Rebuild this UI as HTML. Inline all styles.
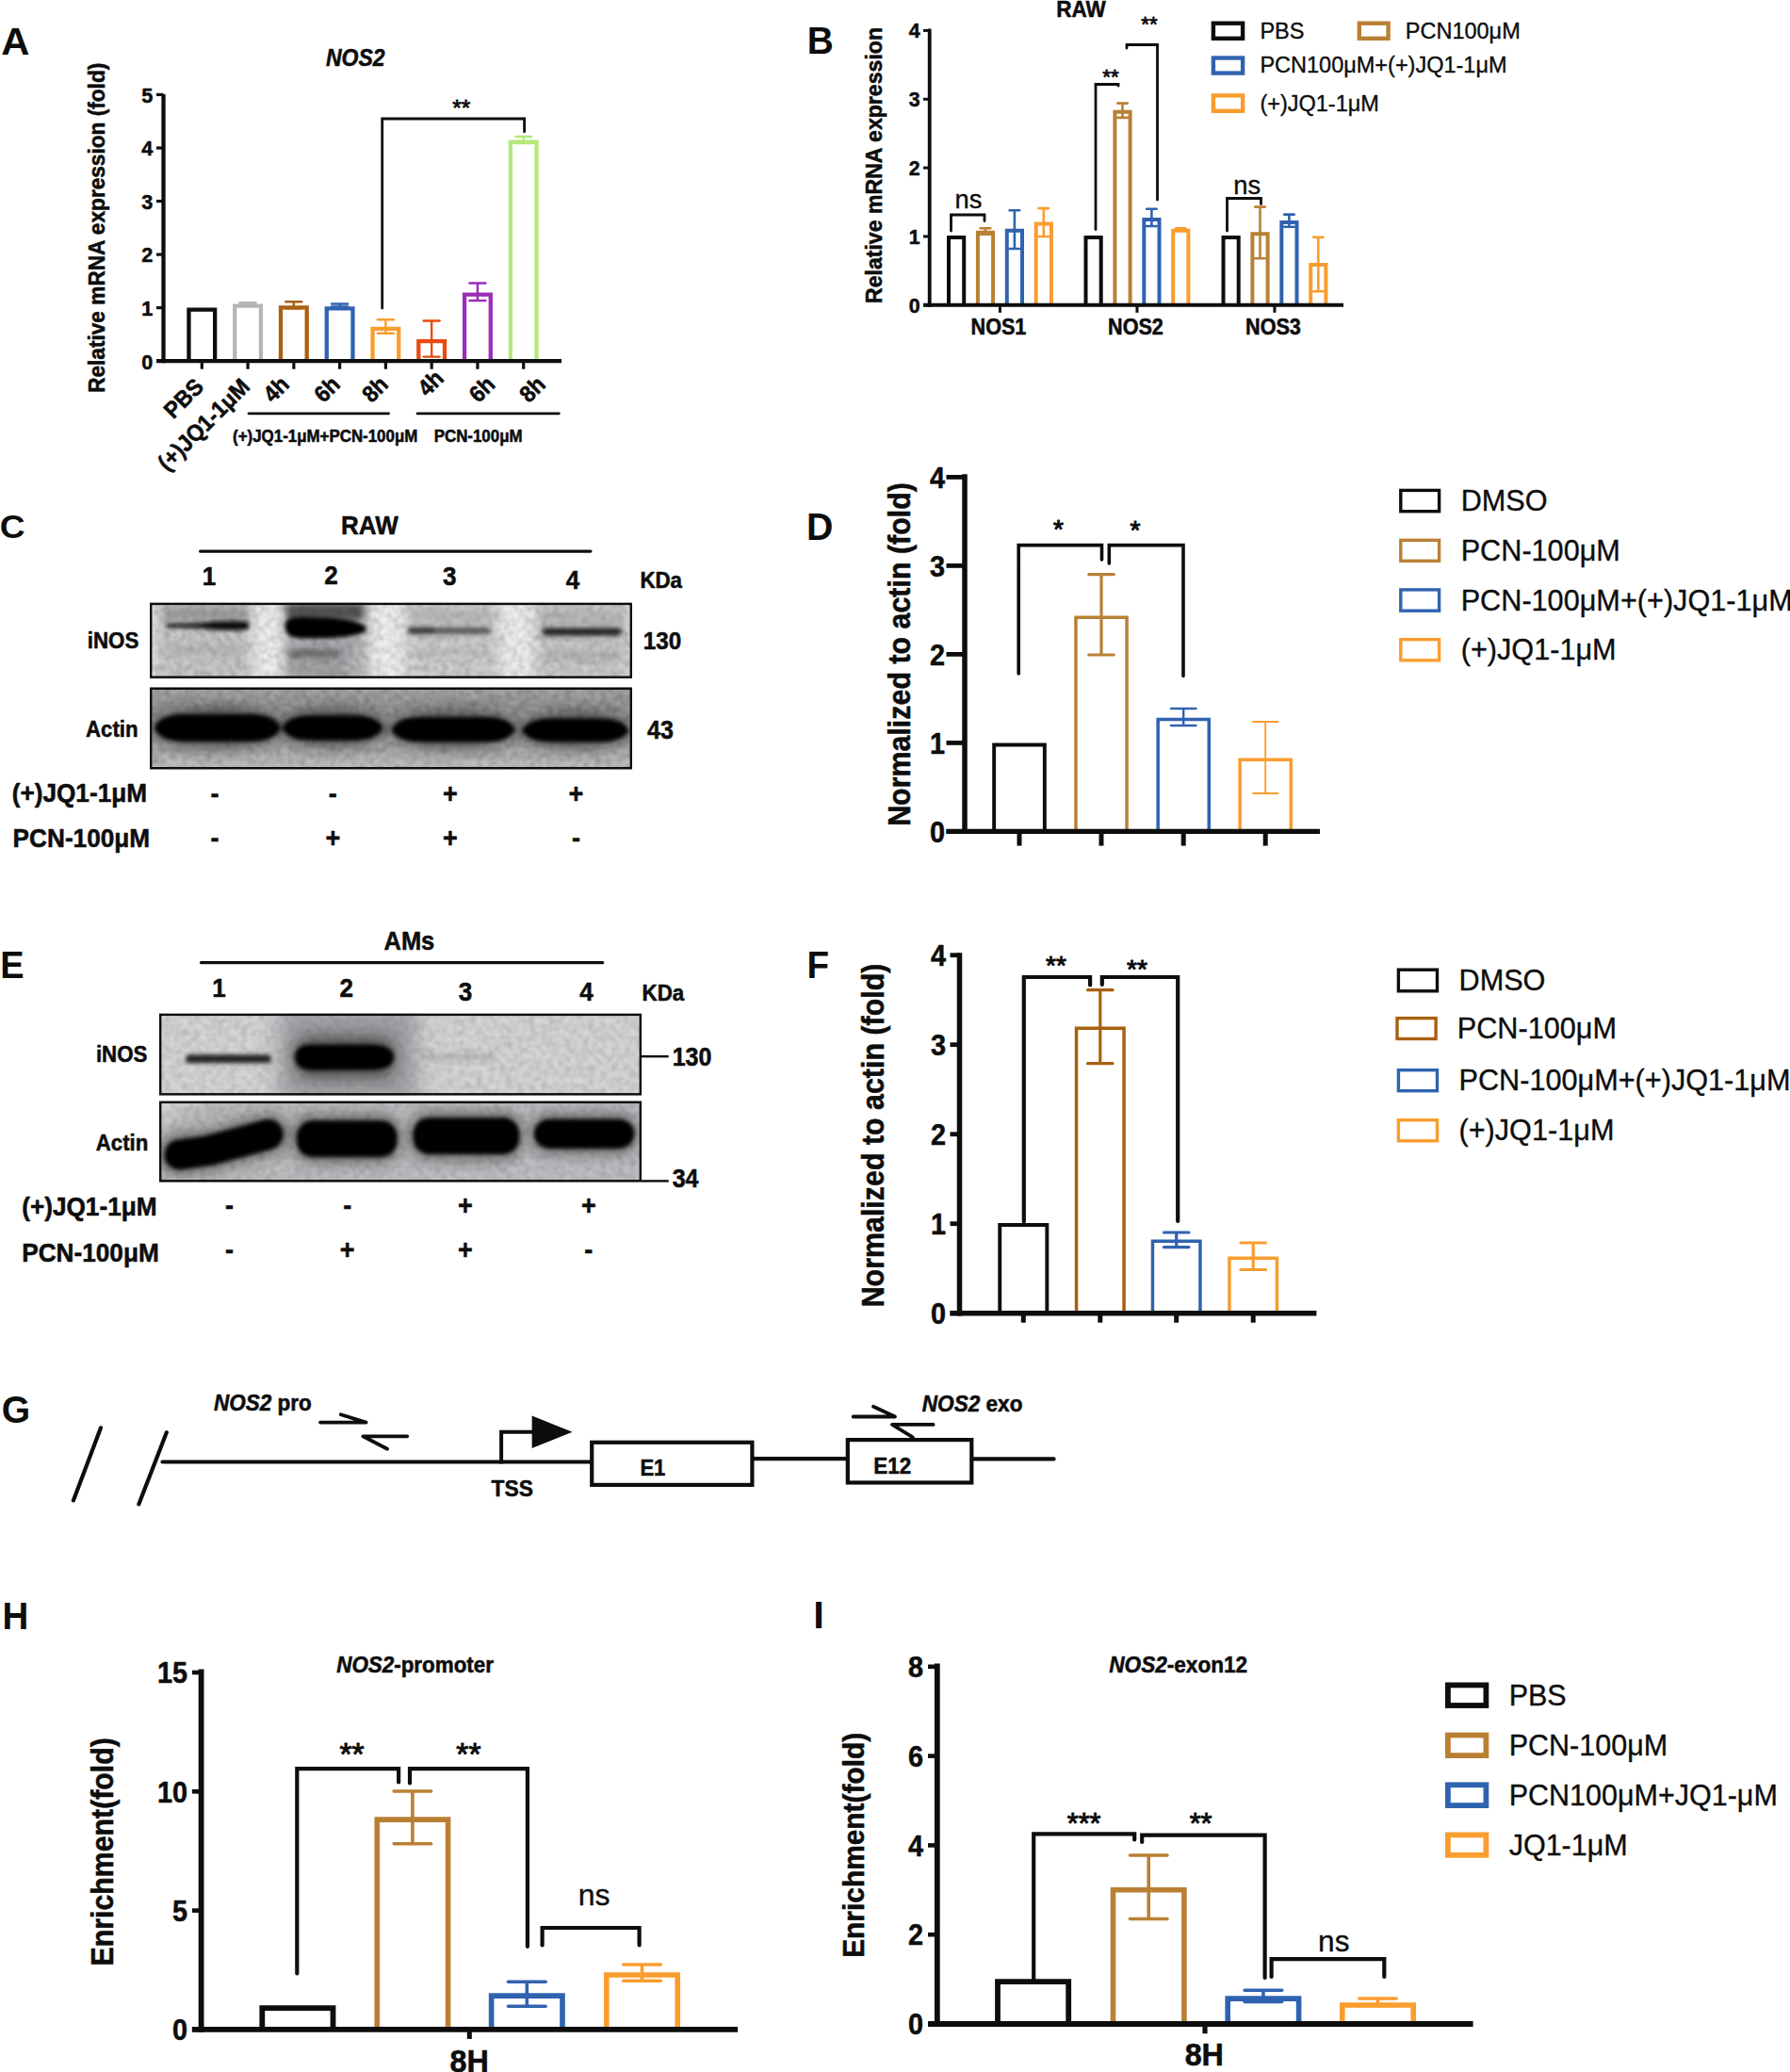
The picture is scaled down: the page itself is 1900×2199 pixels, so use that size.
<!DOCTYPE html>
<html lang="en"><head><meta charset="utf-8"><title>Figure</title>
<style>
html,body{margin:0;padding:0;background:#fff;}
svg{display:block;font-family:'Liberation Sans', sans-serif;}
text{font-family:'Liberation Sans', sans-serif;}
</style></head><body>
<svg width="1900" height="2199" viewBox="0 0 1900 2199">
<rect x="0" y="0" width="1900" height="2199" fill="#fff"/>
<g id="panelA">
<text x="0" y="0" style="font-size:40.90px;font-weight:bold" fill="#0d0d0d" transform="translate(1.16 58.20) scale(1.022 1)">A</text>
<text x="0" y="0" text-anchor="middle" style="font-size:25.99px;font-weight:bold;font-style:italic;" fill="#0d0d0d" transform="translate(377.3 69.9) scale(0.885 1)" stroke="#0d0d0d" stroke-width="0.55" stroke-linejoin="round">NOS2</text>
<path d="M200.45000000000002 383.2 V328.65 H228.15 V383.2" stroke="#0d0d0d" stroke-width="4.3" fill="none" stroke-linejoin="miter" stroke-linecap="butt"/>
<path d="M249.22 383.2 V324.65 H276.92 V383.2" stroke="#b5b4b9" stroke-width="4.3" fill="none" stroke-linejoin="miter" stroke-linecap="butt"/>
<line x1="263.07" y1="321.3" x2="263.07" y2="323.5" stroke="#b5b4b9" stroke-width="2.4" stroke-linecap="butt"/>
<line x1="254.57" y1="321.3" x2="271.57" y2="321.3" stroke="#b5b4b9" stroke-width="2.4" stroke-linecap="round"/>
<line x1="254.57" y1="323.5" x2="271.57" y2="323.5" stroke="#b5b4b9" stroke-width="2.4" stroke-linecap="round"/>
<path d="M297.99 383.2 V326.34999999999997 H325.69000000000005 V383.2" stroke="#aa6112" stroke-width="4.3" fill="none" stroke-linejoin="miter" stroke-linecap="butt"/>
<line x1="311.84000000000003" y1="320.2" x2="311.84000000000003" y2="327.3" stroke="#aa6112" stroke-width="2.4" stroke-linecap="butt"/>
<line x1="303.34000000000003" y1="320.2" x2="320.34000000000003" y2="320.2" stroke="#aa6112" stroke-width="2.4" stroke-linecap="round"/>
<line x1="303.34000000000003" y1="327.3" x2="320.34000000000003" y2="327.3" stroke="#aa6112" stroke-width="2.4" stroke-linecap="round"/>
<path d="M346.76 383.2 V327.45 H374.46000000000004 V383.2" stroke="#2f63b0" stroke-width="4.3" fill="none" stroke-linejoin="miter" stroke-linecap="butt"/>
<line x1="360.61" y1="322.5" x2="360.61" y2="325.5" stroke="#2f63b0" stroke-width="2.4" stroke-linecap="butt"/>
<line x1="352.11" y1="322.5" x2="369.11" y2="322.5" stroke="#2f63b0" stroke-width="2.4" stroke-linecap="round"/>
<line x1="352.11" y1="325.5" x2="369.11" y2="325.5" stroke="#2f63b0" stroke-width="2.4" stroke-linecap="round"/>
<path d="M395.53 383.2 V348.95 H423.23 V383.2" stroke="#f99d2f" stroke-width="4.3" fill="none" stroke-linejoin="miter" stroke-linecap="butt"/>
<line x1="409.38" y1="339.3" x2="409.38" y2="353.8" stroke="#f99d2f" stroke-width="2.4" stroke-linecap="butt"/>
<line x1="400.88" y1="339.3" x2="417.88" y2="339.3" stroke="#f99d2f" stroke-width="2.4" stroke-linecap="round"/>
<line x1="400.88" y1="353.8" x2="417.88" y2="353.8" stroke="#f99d2f" stroke-width="2.4" stroke-linecap="round"/>
<path d="M444.3 383.2 V362.15 H472.00000000000006 V383.2" stroke="#e84b10" stroke-width="4.3" fill="none" stroke-linejoin="miter" stroke-linecap="butt"/>
<line x1="458.15000000000003" y1="340.5" x2="458.15000000000003" y2="378.6" stroke="#e84b10" stroke-width="2.4" stroke-linecap="butt"/>
<line x1="449.65000000000003" y1="340.5" x2="466.65000000000003" y2="340.5" stroke="#e84b10" stroke-width="2.4" stroke-linecap="round"/>
<line x1="449.65000000000003" y1="378.6" x2="466.65000000000003" y2="378.6" stroke="#e84b10" stroke-width="2.4" stroke-linecap="round"/>
<path d="M493.07 383.2 V312.65 H520.7700000000001 V383.2" stroke="#9b2db8" stroke-width="4.3" fill="none" stroke-linejoin="miter" stroke-linecap="butt"/>
<line x1="506.92" y1="300.5" x2="506.92" y2="319" stroke="#9b2db8" stroke-width="2.4" stroke-linecap="butt"/>
<line x1="498.42" y1="300.5" x2="515.4200000000001" y2="300.5" stroke="#9b2db8" stroke-width="2.4" stroke-linecap="round"/>
<line x1="498.42" y1="319" x2="515.4200000000001" y2="319" stroke="#9b2db8" stroke-width="2.4" stroke-linecap="round"/>
<path d="M541.84 383.2 V150.75 H569.5400000000001 V383.2" stroke="#b4e87a" stroke-width="4.3" fill="none" stroke-linejoin="miter" stroke-linecap="butt"/>
<line x1="555.69" y1="145" x2="555.69" y2="152" stroke="#b4e87a" stroke-width="2.4" stroke-linecap="butt"/>
<line x1="547.19" y1="145" x2="564.19" y2="145" stroke="#b4e87a" stroke-width="2.4" stroke-linecap="round"/>
<line x1="547.19" y1="152" x2="564.19" y2="152" stroke="#b4e87a" stroke-width="2.4" stroke-linecap="round"/>
<line x1="173.5" y1="100" x2="173.5" y2="385.3" stroke="#0d0d0d" stroke-width="4.3" stroke-linecap="butt"/>
<line x1="166" y1="383.2" x2="596" y2="383.2" stroke="#0d0d0d" stroke-width="4.3" stroke-linecap="butt"/>
<line x1="166" y1="383.2" x2="173.5" y2="383.2" stroke="#0d0d0d" stroke-width="3.2" stroke-linecap="butt"/>
<text x="0" y="0" text-anchor="end" style="font-size:22.04px;font-weight:bold;" fill="#0d0d0d" transform="translate(162.3 391.5) scale(0.98 1)" stroke="#0d0d0d" stroke-width="0.55" stroke-linejoin="round">0</text>
<line x1="166" y1="326.65" x2="173.5" y2="326.65" stroke="#0d0d0d" stroke-width="3.2" stroke-linecap="butt"/>
<text x="0" y="0" text-anchor="end" style="font-size:22.04px;font-weight:bold;" fill="#0d0d0d" transform="translate(162.3 334.95) scale(0.98 1)" stroke="#0d0d0d" stroke-width="0.55" stroke-linejoin="round">1</text>
<line x1="166" y1="270.1" x2="173.5" y2="270.1" stroke="#0d0d0d" stroke-width="3.2" stroke-linecap="butt"/>
<text x="0" y="0" text-anchor="end" style="font-size:22.04px;font-weight:bold;" fill="#0d0d0d" transform="translate(162.3 278.40000000000003) scale(0.98 1)" stroke="#0d0d0d" stroke-width="0.55" stroke-linejoin="round">2</text>
<line x1="166" y1="213.55" x2="173.5" y2="213.55" stroke="#0d0d0d" stroke-width="3.2" stroke-linecap="butt"/>
<text x="0" y="0" text-anchor="end" style="font-size:22.04px;font-weight:bold;" fill="#0d0d0d" transform="translate(162.3 221.85000000000002) scale(0.98 1)" stroke="#0d0d0d" stroke-width="0.55" stroke-linejoin="round">3</text>
<line x1="166" y1="157.0" x2="173.5" y2="157.0" stroke="#0d0d0d" stroke-width="3.2" stroke-linecap="butt"/>
<text x="0" y="0" text-anchor="end" style="font-size:22.04px;font-weight:bold;" fill="#0d0d0d" transform="translate(162.3 165.3) scale(0.98 1)" stroke="#0d0d0d" stroke-width="0.55" stroke-linejoin="round">4</text>
<line x1="166" y1="100.44999999999999" x2="173.5" y2="100.44999999999999" stroke="#0d0d0d" stroke-width="3.2" stroke-linecap="butt"/>
<text x="0" y="0" text-anchor="end" style="font-size:22.04px;font-weight:bold;" fill="#0d0d0d" transform="translate(162.3 108.74999999999999) scale(0.98 1)" stroke="#0d0d0d" stroke-width="0.55" stroke-linejoin="round">5</text>
<line x1="214.3" y1="383.2" x2="214.3" y2="391.7" stroke="#0d0d0d" stroke-width="3.2" stroke-linecap="butt"/>
<line x1="263.07" y1="383.2" x2="263.07" y2="391.7" stroke="#0d0d0d" stroke-width="3.2" stroke-linecap="butt"/>
<line x1="311.84000000000003" y1="383.2" x2="311.84000000000003" y2="391.7" stroke="#0d0d0d" stroke-width="3.2" stroke-linecap="butt"/>
<line x1="360.61" y1="383.2" x2="360.61" y2="391.7" stroke="#0d0d0d" stroke-width="3.2" stroke-linecap="butt"/>
<line x1="409.38" y1="383.2" x2="409.38" y2="391.7" stroke="#0d0d0d" stroke-width="3.2" stroke-linecap="butt"/>
<line x1="458.15000000000003" y1="383.2" x2="458.15000000000003" y2="391.7" stroke="#0d0d0d" stroke-width="3.2" stroke-linecap="butt"/>
<line x1="506.92" y1="383.2" x2="506.92" y2="391.7" stroke="#0d0d0d" stroke-width="3.2" stroke-linecap="butt"/>
<line x1="555.69" y1="383.2" x2="555.69" y2="391.7" stroke="#0d0d0d" stroke-width="3.2" stroke-linecap="butt"/>
<path d="M405.7 327 V126 H556.6 V139.8" stroke="#0d0d0d" stroke-width="2.8" fill="none" stroke-linejoin="miter" stroke-linecap="round"/>
<text x="489.8" y="123.3" text-anchor="middle" style="font-size:24.5px;" fill="#0d0d0d" stroke="#0d0d0d" stroke-width="0.8" stroke-linejoin="round">**</text>
<text x="0" y="0" text-anchor="end" style="font-size:24.6px;font-weight:bold;" fill="#0d0d0d" transform="translate(217.5 412) rotate(-45) scale(0.935 1)" stroke="#0d0d0d" stroke-width="0.55" stroke-linejoin="round">PBS</text>
<text x="0" y="0" text-anchor="end" style="font-size:24.6px;font-weight:bold;" fill="#0d0d0d" transform="translate(266.5 412) rotate(-45) scale(0.935 1)" stroke="#0d0d0d" stroke-width="0.55" stroke-linejoin="round">(+)JQ1-1μM</text>
<text x="0" y="0" text-anchor="end" style="font-size:24.6px;font-weight:bold;" fill="#0d0d0d" transform="translate(308.5 409.5) rotate(-45) scale(0.935 1)" stroke="#0d0d0d" stroke-width="0.55" stroke-linejoin="round">4h</text>
<text x="0" y="0" text-anchor="end" style="font-size:24.6px;font-weight:bold;" fill="#0d0d0d" transform="translate(362.5 409.5) rotate(-45) scale(0.935 1)" stroke="#0d0d0d" stroke-width="0.55" stroke-linejoin="round">6h</text>
<text x="0" y="0" text-anchor="end" style="font-size:24.6px;font-weight:bold;" fill="#0d0d0d" transform="translate(413.5 409.5) rotate(-45) scale(0.935 1)" stroke="#0d0d0d" stroke-width="0.55" stroke-linejoin="round">8h</text>
<text x="0" y="0" text-anchor="end" style="font-size:24.6px;font-weight:bold;" fill="#0d0d0d" transform="translate(472.5 403) rotate(-45) scale(0.935 1)" stroke="#0d0d0d" stroke-width="0.55" stroke-linejoin="round">4h</text>
<text x="0" y="0" text-anchor="end" style="font-size:24.6px;font-weight:bold;" fill="#0d0d0d" transform="translate(527 409.5) rotate(-45) scale(0.935 1)" stroke="#0d0d0d" stroke-width="0.55" stroke-linejoin="round">6h</text>
<text x="0" y="0" text-anchor="end" style="font-size:24.6px;font-weight:bold;" fill="#0d0d0d" transform="translate(580.5 409.5) rotate(-45) scale(0.935 1)" stroke="#0d0d0d" stroke-width="0.55" stroke-linejoin="round">8h</text>
<line x1="264" y1="438.8" x2="412.6" y2="438.8" stroke="#0d0d0d" stroke-width="2.8" stroke-linecap="round"/>
<line x1="443" y1="438.8" x2="593.3" y2="438.8" stroke="#0d0d0d" stroke-width="2.8" stroke-linecap="round"/>
<text x="0" y="0" text-anchor="middle" style="font-size:18.07px;font-weight:bold;" fill="#0d0d0d" transform="translate(345.2 469) scale(0.935 1)" stroke="#0d0d0d" stroke-width="0.55" stroke-linejoin="round">(+)JQ1-1μM+PCN-100μM</text>
<text x="0" y="0" text-anchor="middle" style="font-size:18.07px;font-weight:bold;" fill="#0d0d0d" transform="translate(507.6 469) scale(0.935 1)" stroke="#0d0d0d" stroke-width="0.55" stroke-linejoin="round">PCN-100μM</text>
<text x="0" y="0" text-anchor="middle" style="font-size:24.22px;font-weight:bold;" fill="#0d0d0d" transform="translate(110.8 241.8) rotate(-90) scale(0.935 1)" stroke="#0d0d0d" stroke-width="0.55" stroke-linejoin="round">Relative mRNA expression (fold)</text>
</g>
<g id="panelB">
<text x="0" y="0" style="font-size:40.93px;font-weight:bold" fill="#0d0d0d" transform="translate(856.80 56.90) scale(0.949 1)">B</text>
<text x="0" y="0" text-anchor="middle" style="font-size:24.06px;font-weight:bold;" fill="#0d0d0d" transform="translate(1147.4 18.4) scale(0.935 1)" stroke="#0d0d0d" stroke-width="0.55" stroke-linejoin="round">RAW</text>
<path d="M1007.0 323.8 V251.95000000000002 H1023.2 V323.8" stroke="#0d0d0d" stroke-width="4" fill="none" stroke-linejoin="miter" stroke-linecap="butt"/>
<path d="M1037.9 323.8 V246.8505 H1054.1 V323.8" stroke="#b98034" stroke-width="4" fill="none" stroke-linejoin="miter" stroke-linecap="butt"/>
<line x1="1046.0" y1="242.20800000000003" x2="1046.0" y2="248.7645" stroke="#b98034" stroke-width="2.6" stroke-linecap="butt"/>
<line x1="1040.75" y1="242.20800000000003" x2="1051.25" y2="242.20800000000003" stroke="#b98034" stroke-width="2.6" stroke-linecap="round"/>
<line x1="1040.75" y1="248.7645" x2="1051.25" y2="248.7645" stroke="#b98034" stroke-width="2.6" stroke-linecap="round"/>
<path d="M1068.8000000000002 323.8 V244.66500000000002 H1085.0 V323.8" stroke="#2f63b0" stroke-width="4" fill="none" stroke-linejoin="miter" stroke-linecap="butt"/>
<line x1="1076.9" y1="223.26700000000002" x2="1076.9" y2="264.063" stroke="#2f63b0" stroke-width="2.6" stroke-linecap="butt"/>
<line x1="1071.65" y1="223.26700000000002" x2="1082.15" y2="223.26700000000002" stroke="#2f63b0" stroke-width="2.6" stroke-linecap="round"/>
<line x1="1071.65" y1="264.063" x2="1082.15" y2="264.063" stroke="#2f63b0" stroke-width="2.6" stroke-linecap="round"/>
<path d="M1099.7 323.8 V237.38000000000002 H1115.8999999999999 V323.8" stroke="#f99d2f" stroke-width="4" fill="none" stroke-linejoin="miter" stroke-linecap="butt"/>
<line x1="1107.8" y1="221.0815" x2="1107.8" y2="250.95000000000002" stroke="#f99d2f" stroke-width="2.6" stroke-linecap="butt"/>
<line x1="1102.55" y1="221.0815" x2="1113.05" y2="221.0815" stroke="#f99d2f" stroke-width="2.6" stroke-linecap="round"/>
<line x1="1102.55" y1="250.95000000000002" x2="1113.05" y2="250.95000000000002" stroke="#f99d2f" stroke-width="2.6" stroke-linecap="round"/>
<path d="M1152.5 323.8 V251.95000000000002 H1168.6999999999998 V323.8" stroke="#0d0d0d" stroke-width="4" fill="none" stroke-linejoin="miter" stroke-linecap="butt"/>
<path d="M1183.4 323.8 V118.63450000000003 H1199.6 V323.8" stroke="#b98034" stroke-width="4" fill="none" stroke-linejoin="miter" stroke-linecap="butt"/>
<line x1="1191.5" y1="109.62100000000004" x2="1191.5" y2="124.91950000000003" stroke="#b98034" stroke-width="2.6" stroke-linecap="butt"/>
<line x1="1186.25" y1="109.62100000000004" x2="1196.75" y2="109.62100000000004" stroke="#b98034" stroke-width="2.6" stroke-linecap="round"/>
<line x1="1186.25" y1="124.91950000000003" x2="1196.75" y2="124.91950000000003" stroke="#b98034" stroke-width="2.6" stroke-linecap="round"/>
<path d="M1214.3 323.8 V233.00900000000001 H1230.4999999999998 V323.8" stroke="#2f63b0" stroke-width="4" fill="none" stroke-linejoin="miter" stroke-linecap="butt"/>
<line x1="1222.3999999999999" y1="221.81000000000003" x2="1222.3999999999999" y2="240.02250000000004" stroke="#2f63b0" stroke-width="2.6" stroke-linecap="butt"/>
<line x1="1217.1499999999999" y1="221.81000000000003" x2="1227.6499999999999" y2="221.81000000000003" stroke="#2f63b0" stroke-width="2.6" stroke-linecap="round"/>
<line x1="1217.1499999999999" y1="240.02250000000004" x2="1227.6499999999999" y2="240.02250000000004" stroke="#2f63b0" stroke-width="2.6" stroke-linecap="round"/>
<path d="M1245.2 323.8 V244.66500000000002 H1261.3999999999999 V323.8" stroke="#f99d2f" stroke-width="4" fill="none" stroke-linejoin="miter" stroke-linecap="butt"/>
<line x1="1253.3" y1="242.20800000000003" x2="1253.3" y2="244.39350000000002" stroke="#f99d2f" stroke-width="2.6" stroke-linecap="butt"/>
<line x1="1248.05" y1="242.20800000000003" x2="1258.55" y2="242.20800000000003" stroke="#f99d2f" stroke-width="2.6" stroke-linecap="round"/>
<line x1="1248.05" y1="244.39350000000002" x2="1258.55" y2="244.39350000000002" stroke="#f99d2f" stroke-width="2.6" stroke-linecap="round"/>
<path d="M1298.5 323.8 V251.95000000000002 H1314.6999999999998 V323.8" stroke="#0d0d0d" stroke-width="4" fill="none" stroke-linejoin="miter" stroke-linecap="butt"/>
<path d="M1329.4 323.8 V248.3075 H1345.6 V323.8" stroke="#b98034" stroke-width="4" fill="none" stroke-linejoin="miter" stroke-linecap="butt"/>
<line x1="1337.5" y1="219.6245" x2="1337.5" y2="274.262" stroke="#b98034" stroke-width="2.6" stroke-linecap="butt"/>
<line x1="1332.25" y1="219.6245" x2="1342.75" y2="219.6245" stroke="#b98034" stroke-width="2.6" stroke-linecap="round"/>
<line x1="1332.25" y1="274.262" x2="1342.75" y2="274.262" stroke="#b98034" stroke-width="2.6" stroke-linecap="round"/>
<path d="M1360.3 323.8 V235.923 H1376.4999999999998 V323.8" stroke="#2f63b0" stroke-width="4" fill="none" stroke-linejoin="miter" stroke-linecap="butt"/>
<line x1="1368.3999999999999" y1="227.63800000000003" x2="1368.3999999999999" y2="240.75100000000003" stroke="#2f63b0" stroke-width="2.6" stroke-linecap="butt"/>
<line x1="1363.1499999999999" y1="227.63800000000003" x2="1373.6499999999999" y2="227.63800000000003" stroke="#2f63b0" stroke-width="2.6" stroke-linecap="round"/>
<line x1="1363.1499999999999" y1="240.75100000000003" x2="1373.6499999999999" y2="240.75100000000003" stroke="#2f63b0" stroke-width="2.6" stroke-linecap="round"/>
<path d="M1391.2 323.8 V281.09000000000003 H1407.3999999999999 V323.8" stroke="#f99d2f" stroke-width="4" fill="none" stroke-linejoin="miter" stroke-linecap="butt"/>
<line x1="1399.3" y1="251.6785" x2="1399.3" y2="309.23" stroke="#f99d2f" stroke-width="2.6" stroke-linecap="butt"/>
<line x1="1394.05" y1="251.6785" x2="1404.55" y2="251.6785" stroke="#f99d2f" stroke-width="2.6" stroke-linecap="round"/>
<line x1="1394.05" y1="309.23" x2="1404.55" y2="309.23" stroke="#f99d2f" stroke-width="2.6" stroke-linecap="round"/>
<line x1="986.7" y1="30.5" x2="986.7" y2="325.8" stroke="#0d0d0d" stroke-width="3.8" stroke-linecap="butt"/>
<line x1="980" y1="323.8" x2="1426" y2="323.8" stroke="#0d0d0d" stroke-width="4" stroke-linecap="butt"/>
<line x1="980" y1="323.8" x2="986.7" y2="323.8" stroke="#0d0d0d" stroke-width="3" stroke-linecap="butt"/>
<text x="0" y="0" text-anchor="end" style="font-size:21.73px;font-weight:bold;" fill="#0d0d0d" transform="translate(976.5 331.6) scale(0.98 1)" stroke="#0d0d0d" stroke-width="0.55" stroke-linejoin="round">0</text>
<line x1="980" y1="250.95000000000002" x2="986.7" y2="250.95000000000002" stroke="#0d0d0d" stroke-width="3" stroke-linecap="butt"/>
<text x="0" y="0" text-anchor="end" style="font-size:21.73px;font-weight:bold;" fill="#0d0d0d" transform="translate(976.5 258.75) scale(0.98 1)" stroke="#0d0d0d" stroke-width="0.55" stroke-linejoin="round">1</text>
<line x1="980" y1="178.10000000000002" x2="986.7" y2="178.10000000000002" stroke="#0d0d0d" stroke-width="3" stroke-linecap="butt"/>
<text x="0" y="0" text-anchor="end" style="font-size:21.73px;font-weight:bold;" fill="#0d0d0d" transform="translate(976.5 185.90000000000003) scale(0.98 1)" stroke="#0d0d0d" stroke-width="0.55" stroke-linejoin="round">2</text>
<line x1="980" y1="105.25000000000003" x2="986.7" y2="105.25000000000003" stroke="#0d0d0d" stroke-width="3" stroke-linecap="butt"/>
<text x="0" y="0" text-anchor="end" style="font-size:21.73px;font-weight:bold;" fill="#0d0d0d" transform="translate(976.5 113.05000000000003) scale(0.98 1)" stroke="#0d0d0d" stroke-width="0.55" stroke-linejoin="round">3</text>
<line x1="980" y1="32.400000000000034" x2="986.7" y2="32.400000000000034" stroke="#0d0d0d" stroke-width="3" stroke-linecap="butt"/>
<text x="0" y="0" text-anchor="end" style="font-size:21.73px;font-weight:bold;" fill="#0d0d0d" transform="translate(976.5 40.20000000000003) scale(0.98 1)" stroke="#0d0d0d" stroke-width="0.55" stroke-linejoin="round">4</text>
<line x1="1061.45" y1="323.8" x2="1061.45" y2="331.8" stroke="#0d0d0d" stroke-width="3" stroke-linecap="butt"/>
<line x1="1206.9499999999998" y1="323.8" x2="1206.9499999999998" y2="331.8" stroke="#0d0d0d" stroke-width="3" stroke-linecap="butt"/>
<line x1="1352.9499999999998" y1="323.8" x2="1352.9499999999998" y2="331.8" stroke="#0d0d0d" stroke-width="3" stroke-linecap="butt"/>
<text x="0" y="0" text-anchor="middle" style="font-size:23.1px;font-weight:bold;" fill="#0d0d0d" transform="translate(1059.95 355.3) scale(0.935 1)" stroke="#0d0d0d" stroke-width="0.55" stroke-linejoin="round">NOS1</text>
<text x="0" y="0" text-anchor="middle" style="font-size:23.1px;font-weight:bold;" fill="#0d0d0d" transform="translate(1205.4499999999998 355.3) scale(0.935 1)" stroke="#0d0d0d" stroke-width="0.55" stroke-linejoin="round">NOS2</text>
<text x="0" y="0" text-anchor="middle" style="font-size:23.1px;font-weight:bold;" fill="#0d0d0d" transform="translate(1351.4499999999998 355.3) scale(0.935 1)" stroke="#0d0d0d" stroke-width="0.55" stroke-linejoin="round">NOS3</text>
<path d="M1009.5 245 V228 H1045 V234.5" stroke="#0d0d0d" stroke-width="2.8" fill="none" stroke-linejoin="miter" stroke-linecap="round"/>
<text x="1028" y="221.3" text-anchor="middle" style="font-size:27.3px;" fill="#0d0d0d" stroke="#0d0d0d" stroke-width="0.35" stroke-linejoin="round">ns</text>
<path d="M1163 243.5 V89.5 H1187 V91" stroke="#0d0d0d" stroke-width="2.8" fill="none" stroke-linejoin="miter" stroke-linecap="round"/>
<text x="1179" y="89.2" text-anchor="middle" style="font-size:22.2px;" fill="#0d0d0d" stroke="#0d0d0d" stroke-width="0.8" stroke-linejoin="round">**</text>
<path d="M1196 51 V47.5 H1228.5 V212" stroke="#0d0d0d" stroke-width="2.8" fill="none" stroke-linejoin="miter" stroke-linecap="round"/>
<text x="1220" y="32.8" text-anchor="middle" style="font-size:22.2px;" fill="#0d0d0d" stroke="#0d0d0d" stroke-width="0.8" stroke-linejoin="round">**</text>
<path d="M1302.5 245 V210.5 H1338.5 V216.5" stroke="#0d0d0d" stroke-width="2.8" fill="none" stroke-linejoin="miter" stroke-linecap="round"/>
<text x="1323.7" y="206" text-anchor="middle" style="font-size:27.3px;" fill="#0d0d0d" stroke="#0d0d0d" stroke-width="0.35" stroke-linejoin="round">ns</text>
<rect x="1287.9" y="24.7" width="31.19999999999991" height="16.1" fill="none" stroke="#0d0d0d" stroke-width="4.4"/>
<text x="1337.4" y="40.8" text-anchor="start" style="font-size:23.5px;" fill="#0d0d0d" stroke="#0d0d0d" stroke-width="0.35" stroke-linejoin="round">PBS</text>
<rect x="1442.8" y="24.7" width="30.800000000000047" height="16.1" fill="none" stroke="#b98034" stroke-width="4.4"/>
<text x="1491.8" y="40.8" text-anchor="start" style="font-size:23.5px;" fill="#0d0d0d" stroke="#0d0d0d" stroke-width="0.35" stroke-linejoin="round">PCN100μM</text>
<rect x="1287.9" y="61.5" width="31.19999999999991" height="16.1" fill="none" stroke="#2f63b0" stroke-width="4.4"/>
<text x="1337.4" y="77.4" text-anchor="start" style="font-size:23.5px;" fill="#0d0d0d" stroke="#0d0d0d" stroke-width="0.35" stroke-linejoin="round">PCN100μM+(+)JQ1-1μM</text>
<rect x="1287.9" y="101.4" width="31.19999999999991" height="16.4" fill="none" stroke="#f99d2f" stroke-width="4.4"/>
<text x="1337.4" y="117.7" text-anchor="start" style="font-size:23.5px;" fill="#0d0d0d" stroke="#0d0d0d" stroke-width="0.35" stroke-linejoin="round">(+)JQ1-1μM</text>
<text x="0" y="0" text-anchor="middle" style="font-size:24.71px;font-weight:bold;" fill="#0d0d0d" transform="translate(936 175.5) rotate(-90) scale(0.935 1)" stroke="#0d0d0d" stroke-width="0.55" stroke-linejoin="round">Relative mRNA expression</text>
</g>
<defs>
<filter id="b1" x="-20%" y="-100%" width="140%" height="300%"><feGaussianBlur stdDeviation="1.2"/></filter>
<filter id="b2" x="-20%" y="-100%" width="140%" height="300%"><feGaussianBlur stdDeviation="2.2"/></filter>
<filter id="b3" x="-20%" y="-100%" width="140%" height="300%"><feGaussianBlur stdDeviation="3.5"/></filter>
<filter id="b6" x="-30%" y="-100%" width="160%" height="300%"><feGaussianBlur stdDeviation="7"/></filter>
<filter id="b10" x="-40%" y="-100%" width="180%" height="300%"><feGaussianBlur stdDeviation="11"/></filter>
<filter id="noise" x="0" y="0" width="100%" height="100%">
<feTurbulence type="fractalNoise" baseFrequency="0.16" numOctaves="3" seed="7" result="n"/>
<feColorMatrix in="n" type="matrix" values="0 0 0 0 0  0 0 0 0 0  0 0 0 0 0  1.5 0 0 0 -0.52"/>
<feGaussianBlur stdDeviation="0.8"/>
</filter>
<filter id="noiseW" x="0" y="0" width="100%" height="100%">
<feTurbulence type="fractalNoise" baseFrequency="0.16" numOctaves="3" seed="23" result="n"/>
<feColorMatrix in="n" type="matrix" values="0 0 0 0 1  0 0 0 0 1  0 0 0 0 1  1.5 0 0 0 -0.52"/>
<feGaussianBlur stdDeviation="0.8"/>
</filter>
<clipPath id="cC1"><rect x="159" y="639.7" width="512" height="80.2"/></clipPath>
<clipPath id="cC2"><rect x="159" y="729.6" width="512" height="86.8"/></clipPath>
<clipPath id="cE1"><rect x="169" y="1075.7" width="512" height="86.8"/></clipPath>
<clipPath id="cE2"><rect x="169" y="1168.6" width="512" height="85.9"/></clipPath>
<linearGradient id="gC2" x1="0" y1="0" x2="0" y2="1"><stop offset="0" stop-color="#a2a2a4"/><stop offset="0.25" stop-color="#8e8e90"/><stop offset="0.75" stop-color="#a4a4a6"/><stop offset="1" stop-color="#c2c2c6"/></linearGradient>
<linearGradient id="gE2" x1="0" y1="0" x2="1" y2="0.3"><stop offset="0" stop-color="#dcdcde"/><stop offset="0.12" stop-color="#b9b9bc"/><stop offset="1" stop-color="#bcbcc0"/></linearGradient>
</defs>
<g id="panelC">
<text x="0" y="0" style="font-size:34.79px;font-weight:bold" fill="#0d0d0d" transform="translate(-0.23 571.49) scale(1.069 1)">C</text>
<text x="0" y="0" text-anchor="middle" style="font-size:27.81px;font-weight:bold;" fill="#0d0d0d" transform="translate(392.4 566.7) scale(0.935 1)" stroke="#0d0d0d" stroke-width="0.55" stroke-linejoin="round">RAW</text>
<line x1="212.6" y1="585.1" x2="626.9" y2="585.1" stroke="#0d0d0d" stroke-width="3.2" stroke-linecap="round"/>
<text x="0" y="0" text-anchor="middle" style="font-size:27.81px;font-weight:bold;" fill="#0d0d0d" transform="translate(222 620.6) scale(0.935 1)" stroke="#0d0d0d" stroke-width="0.55" stroke-linejoin="round">1</text>
<text x="0" y="0" text-anchor="middle" style="font-size:27.81px;font-weight:bold;" fill="#0d0d0d" transform="translate(351.6 620.3) scale(0.935 1)" stroke="#0d0d0d" stroke-width="0.55" stroke-linejoin="round">2</text>
<text x="0" y="0" text-anchor="middle" style="font-size:27.81px;font-weight:bold;" fill="#0d0d0d" transform="translate(477.3 620.6) scale(0.935 1)" stroke="#0d0d0d" stroke-width="0.55" stroke-linejoin="round">3</text>
<text x="0" y="0" text-anchor="middle" style="font-size:27.81px;font-weight:bold;" fill="#0d0d0d" transform="translate(608 625) scale(0.935 1)" stroke="#0d0d0d" stroke-width="0.55" stroke-linejoin="round">4</text>
<text x="0" y="0" text-anchor="start" style="font-size:23.85px;font-weight:bold;" fill="#0d0d0d" transform="translate(679.4 624) scale(0.935 1)" stroke="#0d0d0d" stroke-width="0.55" stroke-linejoin="round">KDa</text>
<text x="0" y="0" text-anchor="end" style="font-size:23.85px;font-weight:bold;" fill="#0d0d0d" transform="translate(147.3 687.7) scale(0.935 1)" stroke="#0d0d0d" stroke-width="0.55" stroke-linejoin="round">iNOS</text>
<text x="0" y="0" text-anchor="end" style="font-size:23.74px;font-weight:bold;" fill="#0d0d0d" transform="translate(146.5 782) scale(0.935 1)" stroke="#0d0d0d" stroke-width="0.55" stroke-linejoin="round">Actin</text>
<text x="0" y="0" text-anchor="start" style="font-size:25.88px;font-weight:bold;" fill="#0d0d0d" transform="translate(682.8 688.6) scale(0.935 1)" stroke="#0d0d0d" stroke-width="0.55" stroke-linejoin="round">130</text>
<text x="0" y="0" text-anchor="start" style="font-size:26.74px;font-weight:bold;" fill="#0d0d0d" transform="translate(687 783.5) scale(0.935 1)" stroke="#0d0d0d" stroke-width="0.55" stroke-linejoin="round">43</text>
<text x="0" y="0" text-anchor="start" style="font-size:28.02px;font-weight:bold;" fill="#0d0d0d" transform="translate(12.7 851.2) scale(0.935 1)" stroke="#0d0d0d" stroke-width="0.55" stroke-linejoin="round">(+)JQ1-1μM</text>
<text x="0" y="0" text-anchor="start" style="font-size:28.02px;font-weight:bold;" fill="#0d0d0d" transform="translate(13.6 899.2) scale(0.935 1)" stroke="#0d0d0d" stroke-width="0.55" stroke-linejoin="round">PCN-100μM</text>
<text x="0" y="0" text-anchor="middle" style="font-size:28.88px;font-weight:bold;" fill="#0d0d0d" transform="translate(228 852) scale(0.935 1)" stroke="#0d0d0d" stroke-width="0.55" stroke-linejoin="round">-</text>
<text x="0" y="0" text-anchor="middle" style="font-size:28.88px;font-weight:bold;" fill="#0d0d0d" transform="translate(228 899) scale(0.935 1)" stroke="#0d0d0d" stroke-width="0.55" stroke-linejoin="round">-</text>
<text x="0" y="0" text-anchor="middle" style="font-size:28.88px;font-weight:bold;" fill="#0d0d0d" transform="translate(353.3 852) scale(0.935 1)" stroke="#0d0d0d" stroke-width="0.55" stroke-linejoin="round">-</text>
<text x="0" y="0" text-anchor="middle" style="font-size:28.88px;font-weight:bold;" fill="#0d0d0d" transform="translate(353.3 899) scale(0.935 1)" stroke="#0d0d0d" stroke-width="0.55" stroke-linejoin="round">+</text>
<text x="0" y="0" text-anchor="middle" style="font-size:28.88px;font-weight:bold;" fill="#0d0d0d" transform="translate(478 852) scale(0.935 1)" stroke="#0d0d0d" stroke-width="0.55" stroke-linejoin="round">+</text>
<text x="0" y="0" text-anchor="middle" style="font-size:28.88px;font-weight:bold;" fill="#0d0d0d" transform="translate(478 899) scale(0.935 1)" stroke="#0d0d0d" stroke-width="0.55" stroke-linejoin="round">+</text>
<text x="0" y="0" text-anchor="middle" style="font-size:28.88px;font-weight:bold;" fill="#0d0d0d" transform="translate(611.5 852) scale(0.935 1)" stroke="#0d0d0d" stroke-width="0.55" stroke-linejoin="round">+</text>
<text x="0" y="0" text-anchor="middle" style="font-size:28.88px;font-weight:bold;" fill="#0d0d0d" transform="translate(611.5 899) scale(0.935 1)" stroke="#0d0d0d" stroke-width="0.55" stroke-linejoin="round">-</text>
<g clip-path="url(#cC1)">
<rect x="159" y="639" width="512" height="82" fill="#efeff1"/>
<rect x="163" y="628" width="105" height="104" fill="#b9b9bc" opacity="0.8" filter="url(#b6)"/>
<rect x="302" y="628" width="88" height="104" fill="#a4a4a8" opacity="0.9" filter="url(#b6)"/>
<rect x="430" y="628" width="100" height="104" fill="#c0c0c3" opacity="0.75" filter="url(#b6)"/>
<rect x="567" y="628" width="105" height="104" fill="#bcbcbf" opacity="0.8" filter="url(#b6)"/>
<rect x="159" y="639" width="512" height="82" filter="url(#noise)" opacity="0.26"/>
<rect x="159" y="639" width="512" height="82" filter="url(#noiseW)" opacity="0.26"/>
<g filter="url(#b3)">
<rect x="304" y="641" width="82" height="17" fill="#333" opacity="0.75"/>
<rect x="306" y="689.5" width="56" height="8.5" fill="#333" opacity="0.62"/>
<rect x="306" y="703" width="60" height="18" fill="#888" opacity="0.4"/>
<rect x="174" y="644" width="90" height="15" fill="#777" opacity="0.55"/>
<rect x="180" y="685" width="78" height="9" fill="#999" opacity="0.45"/>
<rect x="434" y="646" width="88" height="14" fill="#999" opacity="0.4"/>
<rect x="574" y="648" width="86" height="14" fill="#999" opacity="0.4"/>
<rect x="436" y="689" width="84" height="7" fill="#999" opacity="0.4"/>
<rect x="578" y="692" width="80" height="7" fill="#888" opacity="0.45"/>
</g>
<g filter="url(#b2)">
<path d="M176 662.6 L212 661.3 Q238 657.5 262 659.8 Q267 664 262 668.3 Q238 670.5 212 666.8 L176 665.8Z" fill="#080808"/>
<path d="M302.5 664 Q302.5 654.5 320 654.5 L350 655.5 Q375 657 388 664.5 Q390 668 386 671.5 Q370 676.5 345 677.5 L318 677.5 Q302.5 676.5 302.5 664Z" fill="#030303"/>
</g>
<g filter="url(#b3)">
<rect x="433" y="665" width="88" height="8.5" rx="4" fill="#555" opacity="0.4"/>
<rect x="575" y="666" width="85" height="9" rx="4" fill="#333" opacity="0.45"/>
</g>
<g filter="url(#b2)">
<rect x="433" y="666.3" width="28" height="6" rx="3" fill="#1e1e1e" opacity="0.7"/>
<rect x="434" y="666.8" width="86" height="5.2" rx="2.6" fill="#2e2e2e" opacity="0.7"/>
<rect x="576" y="667.6" width="83" height="6" rx="3" fill="#0c0c0c" opacity="0.92"/>
</g>
</g>
<rect x="160.2" y="640.9" width="509.6" height="77.8" fill="none" stroke="#0d0d0d" stroke-width="2.4"/>
<g clip-path="url(#cC2)">
<rect x="159" y="729" width="512" height="88" fill="url(#gC2)"/>
<rect x="159" y="729" width="512" height="88" filter="url(#noise)" opacity="0.25"/>
<rect x="159" y="729" width="512" height="88" filter="url(#noiseW)" opacity="0.22"/>
<g filter="url(#b6)" opacity="0.55">
<ellipse cx="230.7" cy="772.6" rx="71.10000000000001" ry="21.5" fill="#1a1a1a"/>
<ellipse cx="352.85" cy="772.6" rx="57.54999999999998" ry="20.25" fill="#1a1a1a"/>
<ellipse cx="481.1" cy="774.2" rx="69.60000000000002" ry="20.25" fill="#1a1a1a"/>
<ellipse cx="610.8" cy="775" rx="60.599999999999966" ry="19.5" fill="#1a1a1a"/>
</g>
<g filter="url(#b2)">
<path d="M163.6 772.6 Q169.6 758.1 195.6 758.1 L265.8 758.1 Q291.8 758.1 297.8 772.6 Q291.8 787.1 265.8 787.1 L195.6 787.1 Q169.6 787.1 163.6 772.6Z" fill="#050505"/>
<path d="M299.3 772.6 Q305.3 759.35 331.3 759.35 L374.4 759.35 Q400.4 759.35 406.4 772.6 Q400.4 785.85 374.4 785.85 L331.3 785.85 Q305.3 785.85 299.3 772.6Z" fill="#050505"/>
<path d="M415.5 774.2 Q421.5 760.95 447.5 760.95 L514.7 760.95 Q540.7 760.95 546.7 774.2 Q540.7 787.45 514.7 787.45 L447.5 787.45 Q421.5 787.45 415.5 774.2Z" fill="#050505"/>
<path d="M554.2 775 Q560.2 762.5 586.2 762.5 L635.4 762.5 Q661.4 762.5 667.4 775 Q661.4 787.5 635.4 787.5 L586.2 787.5 Q560.2 787.5 554.2 775Z" fill="#050505"/>
</g>
</g>
<rect x="160.2" y="730.8" width="509.6" height="84.4" fill="none" stroke="#0d0d0d" stroke-width="2.4"/>
</g>
<g id="panelD">
<text x="0" y="0" style="font-size:40.41px;font-weight:bold" fill="#0d0d0d" transform="translate(856.07 572.70) scale(0.971 1)">D</text>
<path d="M1055.15 882.4 V790.45 H1108.85 V882.4" stroke="#0d0d0d" stroke-width="3.9" fill="none" stroke-linejoin="miter" stroke-linecap="butt"/>
<path d="M1141.95 882.4 V655.25 H1196.05 V882.4" stroke="#b98034" stroke-width="3.5" fill="none" stroke-linejoin="miter" stroke-linecap="butt"/>
<line x1="1169" y1="609.6" x2="1169" y2="695" stroke="#b98034" stroke-width="3.2" stroke-linecap="butt"/>
<line x1="1155.75" y1="609.6" x2="1182.25" y2="609.6" stroke="#b98034" stroke-width="3.2" stroke-linecap="round"/>
<line x1="1155.75" y1="695" x2="1182.25" y2="695" stroke="#b98034" stroke-width="3.2" stroke-linecap="round"/>
<path d="M1229.15 882.4 V763.55 H1283.25 V882.4" stroke="#2f63b0" stroke-width="3.5" fill="none" stroke-linejoin="miter" stroke-linecap="butt"/>
<line x1="1256.2" y1="752" x2="1256.2" y2="770" stroke="#2f63b0" stroke-width="2.4" stroke-linecap="butt"/>
<line x1="1242.95" y1="752" x2="1269.45" y2="752" stroke="#2f63b0" stroke-width="2.4" stroke-linecap="round"/>
<line x1="1242.95" y1="770" x2="1269.45" y2="770" stroke="#2f63b0" stroke-width="2.4" stroke-linecap="round"/>
<path d="M1316.15 882.4 V806.15 H1370.25 V882.4" stroke="#f99d2f" stroke-width="3.5" fill="none" stroke-linejoin="miter" stroke-linecap="butt"/>
<line x1="1343.2" y1="766" x2="1343.2" y2="842" stroke="#f99d2f" stroke-width="1.9" stroke-linecap="butt"/>
<line x1="1329.95" y1="766" x2="1356.45" y2="766" stroke="#f99d2f" stroke-width="1.9" stroke-linecap="round"/>
<line x1="1329.95" y1="842" x2="1356.45" y2="842" stroke="#f99d2f" stroke-width="1.9" stroke-linecap="round"/>
<line x1="1024" y1="503.3" x2="1024" y2="885.1" stroke="#0d0d0d" stroke-width="5.5" stroke-linecap="butt"/>
<line x1="1004.5" y1="882.4" x2="1401" y2="882.4" stroke="#0d0d0d" stroke-width="5.4" stroke-linecap="butt"/>
<line x1="1004.5" y1="882.4" x2="1024" y2="882.4" stroke="#0d0d0d" stroke-width="4.8" stroke-linecap="butt"/>
<text x="0" y="0" text-anchor="end" style="font-size:30.8px;font-weight:bold;" fill="#0d0d0d" transform="translate(1003 893.5) scale(0.935 1)" stroke="#0d0d0d" stroke-width="0.55" stroke-linejoin="round">0</text>
<line x1="1004.5" y1="788.4" x2="1024" y2="788.4" stroke="#0d0d0d" stroke-width="4.8" stroke-linecap="butt"/>
<text x="0" y="0" text-anchor="end" style="font-size:30.8px;font-weight:bold;" fill="#0d0d0d" transform="translate(1003 799.5) scale(0.935 1)" stroke="#0d0d0d" stroke-width="0.55" stroke-linejoin="round">1</text>
<line x1="1004.5" y1="694.4" x2="1024" y2="694.4" stroke="#0d0d0d" stroke-width="4.8" stroke-linecap="butt"/>
<text x="0" y="0" text-anchor="end" style="font-size:30.8px;font-weight:bold;" fill="#0d0d0d" transform="translate(1003 705.5) scale(0.935 1)" stroke="#0d0d0d" stroke-width="0.55" stroke-linejoin="round">2</text>
<line x1="1004.5" y1="600.4" x2="1024" y2="600.4" stroke="#0d0d0d" stroke-width="4.8" stroke-linecap="butt"/>
<text x="0" y="0" text-anchor="end" style="font-size:30.8px;font-weight:bold;" fill="#0d0d0d" transform="translate(1003 611.5) scale(0.935 1)" stroke="#0d0d0d" stroke-width="0.55" stroke-linejoin="round">3</text>
<line x1="1004.5" y1="506.4" x2="1024" y2="506.4" stroke="#0d0d0d" stroke-width="4.8" stroke-linecap="butt"/>
<text x="0" y="0" text-anchor="end" style="font-size:30.8px;font-weight:bold;" fill="#0d0d0d" transform="translate(1003 517.5) scale(0.935 1)" stroke="#0d0d0d" stroke-width="0.55" stroke-linejoin="round">4</text>
<line x1="1082" y1="882.4" x2="1082" y2="897.6" stroke="#0d0d0d" stroke-width="5" stroke-linecap="butt"/>
<line x1="1169" y1="882.4" x2="1169" y2="897.6" stroke="#0d0d0d" stroke-width="5" stroke-linecap="butt"/>
<line x1="1256.2" y1="882.4" x2="1256.2" y2="897.6" stroke="#0d0d0d" stroke-width="5" stroke-linecap="butt"/>
<line x1="1343.2" y1="882.4" x2="1343.2" y2="897.6" stroke="#0d0d0d" stroke-width="5" stroke-linecap="butt"/>
<path d="M1081.2 715 V578.6 H1169.5 V594" stroke="#0d0d0d" stroke-width="3.6" fill="none" stroke-linejoin="miter" stroke-linecap="round"/>
<path d="M1177.3 598 V578.6 H1256 V717.5" stroke="#0d0d0d" stroke-width="3.6" fill="none" stroke-linejoin="miter" stroke-linecap="round"/>
<text x="1123.5" y="571" text-anchor="middle" style="font-size:28.0px;" fill="#0d0d0d" stroke="#0d0d0d" stroke-width="1.0" stroke-linejoin="round">*</text>
<text x="1205" y="572" text-anchor="middle" style="font-size:28.0px;" fill="#0d0d0d" stroke="#0d0d0d" stroke-width="1.0" stroke-linejoin="round">*</text>
<text x="0" y="0" text-anchor="middle" style="font-size:32.51px;font-weight:bold;" fill="#0d0d0d" transform="translate(966.2 694.5) rotate(-90) scale(0.935 1)" stroke="#0d0d0d" stroke-width="0.55" stroke-linejoin="round">Normalized to actin (fold)</text>
<rect x="1486.8" y="520.4000000000001" width="40.80000000000005" height="22.299999999999933" fill="none" stroke="#0d0d0d" stroke-width="3.4"/>
<text x="1550.7" y="542.3" text-anchor="start" style="font-size:30.65px;" fill="#0d0d0d" stroke="#0d0d0d" stroke-width="0.35" stroke-linejoin="round">DMSO</text>
<rect x="1486.8" y="573.3000000000001" width="40.80000000000005" height="21.99999999999998" fill="none" stroke="#b98034" stroke-width="3.4"/>
<text x="1550.7" y="595.1" text-anchor="start" style="font-size:30.65px;" fill="#0d0d0d" stroke="#0d0d0d" stroke-width="0.35" stroke-linejoin="round">PCN-100μM</text>
<rect x="1486.8" y="625.9000000000001" width="40.80000000000005" height="22.299999999999933" fill="none" stroke="#2f63b0" stroke-width="3.4"/>
<text x="1550.7" y="648" text-anchor="start" style="font-size:30.65px;" fill="#0d0d0d" stroke="#0d0d0d" stroke-width="0.35" stroke-linejoin="round">PCN-100μM+(+)JQ1-1μM</text>
<rect x="1486.8" y="678.7" width="40.80000000000005" height="22.1" fill="none" stroke="#f99d2f" stroke-width="3.4"/>
<text x="1550.7" y="699.9" text-anchor="start" style="font-size:30.65px;" fill="#0d0d0d" stroke="#0d0d0d" stroke-width="0.35" stroke-linejoin="round">(+)JQ1-1μM</text>
</g>
<g id="panelE">
<text x="0" y="0" style="font-size:40.84px;font-weight:bold" fill="#0d0d0d" transform="translate(0.25 1037.90) scale(0.931 1)">E</text>
<text x="0" y="0" text-anchor="middle" style="font-size:27.27px;font-weight:bold;" fill="#0d0d0d" transform="translate(434.4 1008.3) scale(0.935 1)" stroke="#0d0d0d" stroke-width="0.55" stroke-linejoin="round">AMs</text>
<line x1="213.5" y1="1021.7" x2="639.7" y2="1021.7" stroke="#0d0d0d" stroke-width="3.2" stroke-linecap="round"/>
<text x="0" y="0" text-anchor="middle" style="font-size:27.81px;font-weight:bold;" fill="#0d0d0d" transform="translate(232.4 1058.3) scale(0.935 1)" stroke="#0d0d0d" stroke-width="0.55" stroke-linejoin="round">1</text>
<text x="0" y="0" text-anchor="middle" style="font-size:27.81px;font-weight:bold;" fill="#0d0d0d" transform="translate(367.8 1057.5) scale(0.935 1)" stroke="#0d0d0d" stroke-width="0.55" stroke-linejoin="round">2</text>
<text x="0" y="0" text-anchor="middle" style="font-size:27.81px;font-weight:bold;" fill="#0d0d0d" transform="translate(493.9 1061.9) scale(0.935 1)" stroke="#0d0d0d" stroke-width="0.55" stroke-linejoin="round">3</text>
<text x="0" y="0" text-anchor="middle" style="font-size:27.81px;font-weight:bold;" fill="#0d0d0d" transform="translate(622.6 1061.9) scale(0.935 1)" stroke="#0d0d0d" stroke-width="0.55" stroke-linejoin="round">4</text>
<text x="0" y="0" text-anchor="start" style="font-size:23.85px;font-weight:bold;" fill="#0d0d0d" transform="translate(681.6 1061.9) scale(0.935 1)" stroke="#0d0d0d" stroke-width="0.55" stroke-linejoin="round">KDa</text>
<text x="0" y="0" text-anchor="end" style="font-size:23.85px;font-weight:bold;" fill="#0d0d0d" transform="translate(156.4 1126.7) scale(0.935 1)" stroke="#0d0d0d" stroke-width="0.55" stroke-linejoin="round">iNOS</text>
<text x="0" y="0" text-anchor="end" style="font-size:23.74px;font-weight:bold;" fill="#0d0d0d" transform="translate(157.3 1220.6) scale(0.935 1)" stroke="#0d0d0d" stroke-width="0.55" stroke-linejoin="round">Actin</text>
<line x1="681" y1="1121.2" x2="709.7" y2="1121.2" stroke="#0d0d0d" stroke-width="2.4" stroke-linecap="butt"/>
<line x1="681" y1="1253.4" x2="709.7" y2="1253.4" stroke="#0d0d0d" stroke-width="2.4" stroke-linecap="butt"/>
<text x="0" y="0" text-anchor="start" style="font-size:26.74px;font-weight:bold;" fill="#0d0d0d" transform="translate(713.7 1130.7) scale(0.935 1)" stroke="#0d0d0d" stroke-width="0.55" stroke-linejoin="round">130</text>
<text x="0" y="0" text-anchor="start" style="font-size:26.74px;font-weight:bold;" fill="#0d0d0d" transform="translate(713.7 1260.3) scale(0.935 1)" stroke="#0d0d0d" stroke-width="0.55" stroke-linejoin="round">34</text>
<text x="0" y="0" text-anchor="start" style="font-size:28.02px;font-weight:bold;" fill="#0d0d0d" transform="translate(23.2 1289.8) scale(0.935 1)" stroke="#0d0d0d" stroke-width="0.55" stroke-linejoin="round">(+)JQ1-1μM</text>
<text x="0" y="0" text-anchor="start" style="font-size:28.02px;font-weight:bold;" fill="#0d0d0d" transform="translate(23.2 1339) scale(0.935 1)" stroke="#0d0d0d" stroke-width="0.55" stroke-linejoin="round">PCN-100μM</text>
<text x="0" y="0" text-anchor="middle" style="font-size:28.88px;font-weight:bold;" fill="#0d0d0d" transform="translate(243.6 1289) scale(0.935 1)" stroke="#0d0d0d" stroke-width="0.55" stroke-linejoin="round">-</text>
<text x="0" y="0" text-anchor="middle" style="font-size:28.88px;font-weight:bold;" fill="#0d0d0d" transform="translate(243.6 1336) scale(0.935 1)" stroke="#0d0d0d" stroke-width="0.55" stroke-linejoin="round">-</text>
<text x="0" y="0" text-anchor="middle" style="font-size:28.88px;font-weight:bold;" fill="#0d0d0d" transform="translate(368.7 1289) scale(0.935 1)" stroke="#0d0d0d" stroke-width="0.55" stroke-linejoin="round">-</text>
<text x="0" y="0" text-anchor="middle" style="font-size:28.88px;font-weight:bold;" fill="#0d0d0d" transform="translate(368.7 1336) scale(0.935 1)" stroke="#0d0d0d" stroke-width="0.55" stroke-linejoin="round">+</text>
<text x="0" y="0" text-anchor="middle" style="font-size:28.88px;font-weight:bold;" fill="#0d0d0d" transform="translate(493.9 1289) scale(0.935 1)" stroke="#0d0d0d" stroke-width="0.55" stroke-linejoin="round">+</text>
<text x="0" y="0" text-anchor="middle" style="font-size:28.88px;font-weight:bold;" fill="#0d0d0d" transform="translate(493.9 1336) scale(0.935 1)" stroke="#0d0d0d" stroke-width="0.55" stroke-linejoin="round">+</text>
<text x="0" y="0" text-anchor="middle" style="font-size:28.88px;font-weight:bold;" fill="#0d0d0d" transform="translate(624.8 1289) scale(0.935 1)" stroke="#0d0d0d" stroke-width="0.55" stroke-linejoin="round">+</text>
<text x="0" y="0" text-anchor="middle" style="font-size:28.88px;font-weight:bold;" fill="#0d0d0d" transform="translate(624.8 1336) scale(0.935 1)" stroke="#0d0d0d" stroke-width="0.55" stroke-linejoin="round">-</text>
<g clip-path="url(#cE1)">
<rect x="169" y="1075" width="512" height="88" fill="#d3d3d6"/>
<rect x="169" y="1075" width="512" height="88" filter="url(#noise)" opacity="0.2"/>
<rect x="169" y="1075" width="512" height="88" filter="url(#noiseW)" opacity="0.2"/>
<rect x="296" y="1070" width="146" height="100" fill="#6e6e72" opacity="0.55" filter="url(#b10)"/>
<g filter="url(#b6)"><rect x="312" y="1100" width="108" height="44" rx="20" fill="#2a2a2a" opacity="0.6"/></g>
<g filter="url(#b2)">
<rect x="197" y="1119.3" width="91" height="9" rx="4.5" fill="#1a1a1a" opacity="0.92"/>
<path d="M313 1122 Q313 1108.5 330 1108.5 L395 1108.5 Q418 1109.5 418 1122 Q418 1134 398 1135.5 L332 1136 Q313 1135.5 313 1122Z" fill="#050505"/>
<rect x="447" y="1118.5" width="80" height="6" rx="3" fill="#888" opacity="0.4"/>
</g>
</g>
<rect x="170.2" y="1076.9" width="509.6" height="84.4" fill="none" stroke="#0d0d0d" stroke-width="2.4"/>
<g clip-path="url(#cE2)">
<rect x="169" y="1168" width="512" height="88" fill="url(#gE2)"/>
<rect x="169" y="1168" width="512" height="88" filter="url(#noise)" opacity="0.2"/>
<rect x="169" y="1168" width="512" height="88" filter="url(#noiseW)" opacity="0.2"/>
<g filter="url(#b6)" opacity="0.5">
<path d="M190 1225 L222 1221 Q256 1212 285 1204" stroke="#222" stroke-width="44" stroke-linecap="round" fill="none"/>
<rect x="310.9" y="1182.7" width="114.60000000000002" height="51.700000000000045" rx="20" fill="#222"/>
<rect x="434.5" y="1179.7" width="120.70000000000005" height="51.700000000000045" rx="20" fill="#222"/>
<rect x="562.8" y="1181.2" width="114.60000000000002" height="44.200000000000045" rx="20" fill="#222"/>
</g>
<g filter="url(#b2)">
<path d="M190.5 1225.5 L222 1221 Q256 1212 284.5 1204" stroke="#060606" stroke-width="32" stroke-linecap="round" fill="none"/>
<rect x="314.9" y="1189.2" width="106.60000000000002" height="38.700000000000045" rx="17" fill="#060606"/>
<rect x="438.5" y="1186.2" width="112.70000000000005" height="38.700000000000045" rx="17" fill="#060606"/>
<rect x="566.8" y="1187.7" width="106.60000000000002" height="31.200000000000045" rx="17" fill="#060606"/>
</g>
</g>
<rect x="170.2" y="1169.8" width="509.6" height="83.5" fill="none" stroke="#0d0d0d" stroke-width="2.4"/>
</g>
<g id="panelF">
<text x="0" y="0" style="font-size:40.84px;font-weight:bold" fill="#0d0d0d" transform="translate(856.46 1037.80) scale(0.946 1)">F</text>
<path d="M1061.25 1393.7 V1299.95 H1111.35 V1393.7" stroke="#0d0d0d" stroke-width="3.9" fill="none" stroke-linejoin="miter" stroke-linecap="butt"/>
<path d="M1142.55 1393.7 V1091.25 H1193.05 V1393.7" stroke="#a8600f" stroke-width="3.5" fill="none" stroke-linejoin="miter" stroke-linecap="butt"/>
<line x1="1167.8" y1="1050.7" x2="1167.8" y2="1128.7" stroke="#a8600f" stroke-width="3.2" stroke-linecap="butt"/>
<line x1="1154.55" y1="1050.7" x2="1181.05" y2="1050.7" stroke="#a8600f" stroke-width="3.2" stroke-linecap="round"/>
<line x1="1154.55" y1="1128.7" x2="1181.05" y2="1128.7" stroke="#a8600f" stroke-width="3.2" stroke-linecap="round"/>
<path d="M1223.45 1393.7 V1317.25 H1273.95 V1393.7" stroke="#2f63b0" stroke-width="3.5" fill="none" stroke-linejoin="miter" stroke-linecap="butt"/>
<line x1="1248.7" y1="1308" x2="1248.7" y2="1323.6" stroke="#2f63b0" stroke-width="3.2" stroke-linecap="butt"/>
<line x1="1235.45" y1="1308" x2="1261.95" y2="1308" stroke="#2f63b0" stroke-width="3.2" stroke-linecap="round"/>
<line x1="1235.45" y1="1323.6" x2="1261.95" y2="1323.6" stroke="#2f63b0" stroke-width="3.2" stroke-linecap="round"/>
<path d="M1304.95 1393.7 V1335.15 H1355.45 V1393.7" stroke="#f99d2f" stroke-width="3.5" fill="none" stroke-linejoin="miter" stroke-linecap="butt"/>
<line x1="1330.2" y1="1319" x2="1330.2" y2="1347.5" stroke="#f99d2f" stroke-width="3.2" stroke-linecap="butt"/>
<line x1="1316.95" y1="1319" x2="1343.45" y2="1319" stroke="#f99d2f" stroke-width="3.2" stroke-linecap="round"/>
<line x1="1316.95" y1="1347.5" x2="1343.45" y2="1347.5" stroke="#f99d2f" stroke-width="3.2" stroke-linecap="round"/>
<line x1="1018.5" y1="1011.3" x2="1018.5" y2="1396.4" stroke="#0d0d0d" stroke-width="5.5" stroke-linecap="butt"/>
<line x1="1008.5" y1="1393.7" x2="1397.4" y2="1393.7" stroke="#0d0d0d" stroke-width="5.4" stroke-linecap="butt"/>
<line x1="1008.5" y1="1393.7" x2="1018.5" y2="1393.7" stroke="#0d0d0d" stroke-width="4.8" stroke-linecap="butt"/>
<text x="0" y="0" text-anchor="end" style="font-size:30.8px;font-weight:bold;" fill="#0d0d0d" transform="translate(1004 1404.8) scale(0.935 1)" stroke="#0d0d0d" stroke-width="0.55" stroke-linejoin="round">0</text>
<line x1="1008.5" y1="1298.7" x2="1018.5" y2="1298.7" stroke="#0d0d0d" stroke-width="4.8" stroke-linecap="butt"/>
<text x="0" y="0" text-anchor="end" style="font-size:30.8px;font-weight:bold;" fill="#0d0d0d" transform="translate(1004 1309.8) scale(0.935 1)" stroke="#0d0d0d" stroke-width="0.55" stroke-linejoin="round">1</text>
<line x1="1008.5" y1="1203.7" x2="1018.5" y2="1203.7" stroke="#0d0d0d" stroke-width="4.8" stroke-linecap="butt"/>
<text x="0" y="0" text-anchor="end" style="font-size:30.8px;font-weight:bold;" fill="#0d0d0d" transform="translate(1004 1214.8) scale(0.935 1)" stroke="#0d0d0d" stroke-width="0.55" stroke-linejoin="round">2</text>
<line x1="1008.5" y1="1108.7" x2="1018.5" y2="1108.7" stroke="#0d0d0d" stroke-width="4.8" stroke-linecap="butt"/>
<text x="0" y="0" text-anchor="end" style="font-size:30.8px;font-weight:bold;" fill="#0d0d0d" transform="translate(1004 1119.8) scale(0.935 1)" stroke="#0d0d0d" stroke-width="0.55" stroke-linejoin="round">3</text>
<line x1="1008.5" y1="1013.7" x2="1018.5" y2="1013.7" stroke="#0d0d0d" stroke-width="4.8" stroke-linecap="butt"/>
<text x="0" y="0" text-anchor="end" style="font-size:30.8px;font-weight:bold;" fill="#0d0d0d" transform="translate(1004 1024.8) scale(0.935 1)" stroke="#0d0d0d" stroke-width="0.55" stroke-linejoin="round">4</text>
<line x1="1086.3" y1="1393.7" x2="1086.3" y2="1403.7" stroke="#0d0d0d" stroke-width="5" stroke-linecap="butt"/>
<line x1="1167.8" y1="1393.7" x2="1167.8" y2="1403.7" stroke="#0d0d0d" stroke-width="5" stroke-linecap="butt"/>
<line x1="1248.7" y1="1393.7" x2="1248.7" y2="1403.7" stroke="#0d0d0d" stroke-width="5" stroke-linecap="butt"/>
<line x1="1330.2" y1="1393.7" x2="1330.2" y2="1403.7" stroke="#0d0d0d" stroke-width="5" stroke-linecap="butt"/>
<path d="M1086.8 1296.5 V1037 H1157.1 V1045.5" stroke="#0d0d0d" stroke-width="4.2" fill="none" stroke-linejoin="miter" stroke-linecap="round"/>
<path d="M1169.8 1045 V1037 H1250.2 V1296" stroke="#0d0d0d" stroke-width="4.2" fill="none" stroke-linejoin="miter" stroke-linecap="round"/>
<text x="1121" y="1034" text-anchor="middle" style="font-size:28.0px;" fill="#0d0d0d" stroke="#0d0d0d" stroke-width="1.0" stroke-linejoin="round">**</text>
<text x="1207" y="1037.5" text-anchor="middle" style="font-size:28.0px;" fill="#0d0d0d" stroke="#0d0d0d" stroke-width="1.0" stroke-linejoin="round">**</text>
<text x="0" y="0" text-anchor="middle" style="font-size:32.51px;font-weight:bold;" fill="#0d0d0d" transform="translate(937.6 1205) rotate(-90) scale(0.935 1)" stroke="#0d0d0d" stroke-width="0.55" stroke-linejoin="round">Normalized to actin (fold)</text>
<rect x="1484.4" y="1029.2" width="41.1" height="22.6" fill="none" stroke="#0d0d0d" stroke-width="3.4"/>
<text x="1548.5" y="1051.3" text-anchor="start" style="font-size:30.65px;" fill="#0d0d0d" stroke="#0d0d0d" stroke-width="0.35" stroke-linejoin="round">DMSO</text>
<rect x="1483.0" y="1080.6000000000001" width="41.1" height="21.899999999999956" fill="none" stroke="#a8600f" stroke-width="3.4"/>
<text x="1546.8" y="1102" text-anchor="start" style="font-size:30.65px;" fill="#0d0d0d" stroke="#0d0d0d" stroke-width="0.35" stroke-linejoin="round">PCN-100μM</text>
<rect x="1484.4" y="1135.7" width="41.1" height="22.000000000000092" fill="none" stroke="#2f63b0" stroke-width="3.4"/>
<text x="1548.5" y="1157" text-anchor="start" style="font-size:30.65px;" fill="#0d0d0d" stroke="#0d0d0d" stroke-width="0.35" stroke-linejoin="round">PCN-100μM+(+)JQ1-1μM</text>
<rect x="1484.4" y="1188.7" width="41.1" height="22.1" fill="none" stroke="#f99d2f" stroke-width="3.4"/>
<text x="1548.5" y="1209.9" text-anchor="start" style="font-size:30.65px;" fill="#0d0d0d" stroke="#0d0d0d" stroke-width="0.35" stroke-linejoin="round">(+)JQ1-1μM</text>
</g>
<g id="panelG">
<text x="0" y="0" style="font-size:41.09px;font-weight:bold" fill="#0d0d0d" transform="translate(1.64 1510.13) scale(0.952 1)">G</text>
<line x1="107" y1="1515.3" x2="77.9" y2="1592.4" stroke="#0d0d0d" stroke-width="4.2" stroke-linecap="round"/>
<line x1="176.8" y1="1520.3" x2="147.3" y2="1596.4" stroke="#0d0d0d" stroke-width="4.2" stroke-linecap="round"/>
<line x1="172.5" y1="1551.5" x2="628" y2="1551.5" stroke="#0d0d0d" stroke-width="4.2" stroke-linecap="round"/>
<text x="0" y="0" text-anchor="start" style="font-size:24.06px;font-weight:bold;" fill="#0d0d0d" transform="translate(227 1497) scale(0.935 1)" stroke="#0d0d0d" stroke-width="0.55" stroke-linejoin="round"><tspan style="font-style:italic">NOS2</tspan> pro</text>
<path d="M340 1509.6 H388.6 L361.8 1501.2" stroke="#0d0d0d" stroke-width="3.8" fill="none" stroke-linejoin="round" stroke-linecap="round"/>
<path d="M432.2 1524.3 H385.3 L411.1 1537.7" stroke="#0d0d0d" stroke-width="3.8" fill="none" stroke-linejoin="round" stroke-linecap="round"/>
<path d="M532.1 1553.5 V1519.8 H567" stroke="#0d0d0d" stroke-width="4" fill="none" stroke-linejoin="miter" stroke-linecap="butt"/>
<polygon points="564.6,1502.5 607.5,1519.8 564.6,1537" fill="#0d0d0d"/>
<text x="0" y="0" text-anchor="start" style="font-size:24.39px;font-weight:bold;" fill="#0d0d0d" transform="translate(521.6 1587.5) scale(0.935 1)" stroke="#0d0d0d" stroke-width="0.55" stroke-linejoin="round">TSS</text>
<rect x="628.2" y="1530.8" width="170.2" height="45.1" fill="#fff" stroke="#0d0d0d" stroke-width="4.2"/>
<text x="0" y="0" text-anchor="start" style="font-size:23.53px;font-weight:bold;" fill="#0d0d0d" transform="translate(679.4 1565.5) scale(0.935 1)" stroke="#0d0d0d" stroke-width="0.55" stroke-linejoin="round">E1</text>
<line x1="800" y1="1548.1" x2="898.5" y2="1548.1" stroke="#0d0d0d" stroke-width="4.2" stroke-linecap="round"/>
<rect x="899.8" y="1528.1" width="131.5" height="45.4" fill="#fff" stroke="#0d0d0d" stroke-width="4.2"/>
<text x="0" y="0" text-anchor="start" style="font-size:23.96px;font-weight:bold;" fill="#0d0d0d" transform="translate(927.3 1563.9) scale(0.935 1)" stroke="#0d0d0d" stroke-width="0.55" stroke-linejoin="round">E12</text>
<line x1="1033" y1="1548.4" x2="1118.5" y2="1548.4" stroke="#0d0d0d" stroke-width="4.2" stroke-linecap="round"/>
<path d="M905.7 1503.5 H950 L927 1492.8" stroke="#0d0d0d" stroke-width="3.8" fill="none" stroke-linejoin="round" stroke-linecap="round"/>
<path d="M990.6 1511.9 H947 L968.8 1525.3" stroke="#0d0d0d" stroke-width="3.8" fill="none" stroke-linejoin="round" stroke-linecap="round"/>
<text x="0" y="0" text-anchor="start" style="font-size:24.17px;font-weight:bold;" fill="#0d0d0d" transform="translate(978.8 1498) scale(0.935 1)" stroke="#0d0d0d" stroke-width="0.55" stroke-linejoin="round"><tspan style="font-style:italic">NOS2</tspan> exo</text>
</g>
<g id="panelH">
<text x="0" y="0" style="font-size:40.19px;font-weight:bold" fill="#0d0d0d" transform="translate(2.45 1729.10) scale(0.959 1)">H</text>
<text x="0" y="0" text-anchor="middle" style="font-size:23.96px;font-weight:bold;" fill="#0d0d0d" transform="translate(440.6 1775) scale(0.935 1)" stroke="#0d0d0d" stroke-width="0.55" stroke-linejoin="round"><tspan style="font-style:italic">NOS2</tspan>-promoter</text>
<path d="M278.29999999999995 2153.9 V2131.1 H353.5 V2153.9" stroke="#0d0d0d" stroke-width="5.8" fill="none" stroke-linejoin="miter" stroke-linecap="butt"/>
<path d="M400.2 2153.9 V1931.1 H475.59999999999997 V2153.9" stroke="#b98034" stroke-width="5.6" fill="none" stroke-linejoin="miter" stroke-linecap="butt"/>
<line x1="437.9" y1="1901" x2="437.9" y2="1956.7" stroke="#b98034" stroke-width="3.6" stroke-linecap="butt"/>
<line x1="418.15" y1="1901" x2="457.65" y2="1901" stroke="#b98034" stroke-width="3.6" stroke-linecap="round"/>
<line x1="418.15" y1="1956.7" x2="457.65" y2="1956.7" stroke="#b98034" stroke-width="3.6" stroke-linecap="round"/>
<path d="M521.5999999999999 2153.9 V2118.1000000000004 H597.0 V2153.9" stroke="#2f63b0" stroke-width="5.6" fill="none" stroke-linejoin="miter" stroke-linecap="butt"/>
<line x1="559.3" y1="2103.3" x2="559.3" y2="2129.2" stroke="#2f63b0" stroke-width="3.6" stroke-linecap="butt"/>
<line x1="539.55" y1="2103.3" x2="579.05" y2="2103.3" stroke="#2f63b0" stroke-width="3.6" stroke-linecap="round"/>
<line x1="539.55" y1="2129.2" x2="579.05" y2="2129.2" stroke="#2f63b0" stroke-width="3.6" stroke-linecap="round"/>
<path d="M643.8 2153.9 V2096.0 H719.2 V2153.9" stroke="#f99d2f" stroke-width="5.6" fill="none" stroke-linejoin="miter" stroke-linecap="butt"/>
<line x1="681.5" y1="2085" x2="681.5" y2="2102.3" stroke="#f99d2f" stroke-width="3.6" stroke-linecap="butt"/>
<line x1="661.75" y1="2085" x2="701.25" y2="2085" stroke="#f99d2f" stroke-width="3.6" stroke-linecap="round"/>
<line x1="661.75" y1="2102.3" x2="701.25" y2="2102.3" stroke="#f99d2f" stroke-width="3.6" stroke-linecap="round"/>
<line x1="213.6" y1="1771.5" x2="213.6" y2="2156.8" stroke="#0d0d0d" stroke-width="5.8" stroke-linecap="butt"/>
<line x1="203.9" y1="2153.9" x2="783.1" y2="2153.9" stroke="#0d0d0d" stroke-width="5.8" stroke-linecap="butt"/>
<line x1="203.9" y1="2153.9" x2="213.6" y2="2153.9" stroke="#0d0d0d" stroke-width="4.6" stroke-linecap="butt"/>
<text x="0" y="0" text-anchor="end" style="font-size:30.8px;font-weight:bold;" fill="#0d0d0d" transform="translate(199 2165.1) scale(0.935 1)" stroke="#0d0d0d" stroke-width="0.55" stroke-linejoin="round">0</text>
<line x1="203.9" y1="2027.6000000000001" x2="213.6" y2="2027.6000000000001" stroke="#0d0d0d" stroke-width="4.6" stroke-linecap="butt"/>
<text x="0" y="0" text-anchor="end" style="font-size:30.8px;font-weight:bold;" fill="#0d0d0d" transform="translate(199 2038.8000000000002) scale(0.935 1)" stroke="#0d0d0d" stroke-width="0.55" stroke-linejoin="round">5</text>
<line x1="203.9" y1="1901.3000000000002" x2="213.6" y2="1901.3000000000002" stroke="#0d0d0d" stroke-width="4.6" stroke-linecap="butt"/>
<text x="0" y="0" text-anchor="end" style="font-size:30.8px;font-weight:bold;" fill="#0d0d0d" transform="translate(199 1912.5000000000002) scale(0.935 1)" stroke="#0d0d0d" stroke-width="0.55" stroke-linejoin="round">10</text>
<line x1="203.9" y1="1775.0" x2="213.6" y2="1775.0" stroke="#0d0d0d" stroke-width="4.6" stroke-linecap="butt"/>
<text x="0" y="0" text-anchor="end" style="font-size:30.8px;font-weight:bold;" fill="#0d0d0d" transform="translate(199 1786.2) scale(0.935 1)" stroke="#0d0d0d" stroke-width="0.55" stroke-linejoin="round">15</text>
<line x1="498.3" y1="2153.9" x2="498.3" y2="2163.9" stroke="#0d0d0d" stroke-width="5" stroke-linecap="butt"/>
<text x="498.2" y="2198.8" text-anchor="middle" style="font-size:32.3px;font-weight:bold;" fill="#0d0d0d" stroke="#0d0d0d" stroke-width="0.55" stroke-linejoin="round">8H</text>
<path d="M315.3 2094.5 V1877.1 H423.1 V1891.5" stroke="#0d0d0d" stroke-width="4.2" fill="none" stroke-linejoin="miter" stroke-linecap="round"/>
<path d="M435 1892.5 V1877.1 H559.9 V2065.8" stroke="#0d0d0d" stroke-width="4.2" fill="none" stroke-linejoin="miter" stroke-linecap="round"/>
<path d="M575.6 2064.5 V2046 H678.6 V2064.5" stroke="#0d0d0d" stroke-width="4.2" fill="none" stroke-linejoin="miter" stroke-linecap="round"/>
<text x="373.5" y="1873.2" text-anchor="middle" style="font-size:33.5px;" fill="#0d0d0d" stroke="#0d0d0d" stroke-width="1.0" stroke-linejoin="round">**</text>
<text x="497.4" y="1873.2" text-anchor="middle" style="font-size:33.5px;" fill="#0d0d0d" stroke="#0d0d0d" stroke-width="1.0" stroke-linejoin="round">**</text>
<text x="630.7" y="2022.4" text-anchor="middle" style="font-size:32.0px;" fill="#0d0d0d" stroke="#0d0d0d" stroke-width="0.35" stroke-linejoin="round">ns</text>
<text x="0" y="0" text-anchor="middle" style="font-size:32.41px;font-weight:bold;" fill="#0d0d0d" transform="translate(120 1965.3) rotate(-90) scale(0.935 1)" stroke="#0d0d0d" stroke-width="0.55" stroke-linejoin="round">Enrichment(fold)</text>
</g>
<g id="panelI">
<text x="0" y="0" style="font-size:40.41px;font-weight:bold" fill="#0d0d0d" transform="translate(863.23 1728.10) scale(1.033 1)">I</text>
<text x="0" y="0" text-anchor="middle" style="font-size:24.17px;font-weight:bold;" fill="#0d0d0d" transform="translate(1250.7 1774.7) scale(0.935 1)" stroke="#0d0d0d" stroke-width="0.55" stroke-linejoin="round"><tspan style="font-style:italic">NOS2</tspan>-exon12</text>
<path d="M1059.0 2148 V2103.1 H1134.1999999999998 V2148" stroke="#0d0d0d" stroke-width="5.8" fill="none" stroke-linejoin="miter" stroke-linecap="butt"/>
<path d="M1181.5 2148 V2005.8 H1256.9 V2148" stroke="#b98034" stroke-width="5.6" fill="none" stroke-linejoin="miter" stroke-linecap="butt"/>
<line x1="1219.2" y1="1969" x2="1219.2" y2="2036.5" stroke="#b98034" stroke-width="3.6" stroke-linecap="butt"/>
<line x1="1199.45" y1="1969" x2="1238.95" y2="1969" stroke="#b98034" stroke-width="3.6" stroke-linecap="round"/>
<line x1="1199.45" y1="2036.5" x2="1238.95" y2="2036.5" stroke="#b98034" stroke-width="3.6" stroke-linecap="round"/>
<path d="M1303.2 2148 V2121.1000000000004 H1378.6000000000001 V2148" stroke="#2f63b0" stroke-width="5.6" fill="none" stroke-linejoin="miter" stroke-linecap="butt"/>
<line x1="1340.9" y1="2112.3" x2="1340.9" y2="2124.5" stroke="#2f63b0" stroke-width="3.6" stroke-linecap="butt"/>
<line x1="1321.15" y1="2112.3" x2="1360.65" y2="2112.3" stroke="#2f63b0" stroke-width="3.6" stroke-linecap="round"/>
<line x1="1321.15" y1="2124.5" x2="1360.65" y2="2124.5" stroke="#2f63b0" stroke-width="3.6" stroke-linecap="round"/>
<path d="M1424.8 2148 V2128.0 H1500.2 V2148" stroke="#f99d2f" stroke-width="5.6" fill="none" stroke-linejoin="miter" stroke-linecap="butt"/>
<line x1="1462.5" y1="2121" x2="1462.5" y2="2128.5" stroke="#f99d2f" stroke-width="3.6" stroke-linecap="butt"/>
<line x1="1442.75" y1="2121" x2="1482.25" y2="2121" stroke="#f99d2f" stroke-width="3.6" stroke-linecap="round"/>
<line x1="1442.75" y1="2128.5" x2="1482.25" y2="2128.5" stroke="#f99d2f" stroke-width="3.6" stroke-linecap="round"/>
<line x1="994.8" y1="1765.6" x2="994.8" y2="2150.9" stroke="#0d0d0d" stroke-width="5.8" stroke-linecap="butt"/>
<line x1="985" y1="2148" x2="1563.6" y2="2148" stroke="#0d0d0d" stroke-width="5.8" stroke-linecap="butt"/>
<line x1="985" y1="2148.0" x2="994.8" y2="2148.0" stroke="#0d0d0d" stroke-width="4.6" stroke-linecap="butt"/>
<text x="0" y="0" text-anchor="end" style="font-size:30.8px;font-weight:bold;" fill="#0d0d0d" transform="translate(980 2159.2) scale(0.935 1)" stroke="#0d0d0d" stroke-width="0.55" stroke-linejoin="round">0</text>
<line x1="985" y1="2053.2" x2="994.8" y2="2053.2" stroke="#0d0d0d" stroke-width="4.6" stroke-linecap="butt"/>
<text x="0" y="0" text-anchor="end" style="font-size:30.8px;font-weight:bold;" fill="#0d0d0d" transform="translate(980 2064.3999999999996) scale(0.935 1)" stroke="#0d0d0d" stroke-width="0.55" stroke-linejoin="round">2</text>
<line x1="985" y1="1958.4" x2="994.8" y2="1958.4" stroke="#0d0d0d" stroke-width="4.6" stroke-linecap="butt"/>
<text x="0" y="0" text-anchor="end" style="font-size:30.8px;font-weight:bold;" fill="#0d0d0d" transform="translate(980 1969.6000000000001) scale(0.935 1)" stroke="#0d0d0d" stroke-width="0.55" stroke-linejoin="round">4</text>
<line x1="985" y1="1863.6" x2="994.8" y2="1863.6" stroke="#0d0d0d" stroke-width="4.6" stroke-linecap="butt"/>
<text x="0" y="0" text-anchor="end" style="font-size:30.8px;font-weight:bold;" fill="#0d0d0d" transform="translate(980 1874.8) scale(0.935 1)" stroke="#0d0d0d" stroke-width="0.55" stroke-linejoin="round">6</text>
<line x1="985" y1="1768.8" x2="994.8" y2="1768.8" stroke="#0d0d0d" stroke-width="4.6" stroke-linecap="butt"/>
<text x="0" y="0" text-anchor="end" style="font-size:30.8px;font-weight:bold;" fill="#0d0d0d" transform="translate(980 1780.0) scale(0.935 1)" stroke="#0d0d0d" stroke-width="0.55" stroke-linejoin="round">8</text>
<line x1="1279" y1="2148" x2="1279" y2="2158.2" stroke="#0d0d0d" stroke-width="5.2" stroke-linecap="butt"/>
<text x="1278.3" y="2192.3" text-anchor="middle" style="font-size:32.3px;font-weight:bold;" fill="#0d0d0d" stroke="#0d0d0d" stroke-width="0.55" stroke-linejoin="round">8H</text>
<path d="M1097.2 2100 V1946.4 H1204.2 V1952.5" stroke="#0d0d0d" stroke-width="4.2" fill="none" stroke-linejoin="miter" stroke-linecap="round"/>
<path d="M1212.2 1955 V1947.6 H1342.6 V2099" stroke="#0d0d0d" stroke-width="4.2" fill="none" stroke-linejoin="miter" stroke-linecap="round"/>
<path d="M1349.6 2098 V2079.2 H1469.3 V2098" stroke="#0d0d0d" stroke-width="4.2" fill="none" stroke-linejoin="miter" stroke-linecap="round"/>
<text x="1150.6" y="1946" text-anchor="middle" style="font-size:30.5px;" fill="#0d0d0d" stroke="#0d0d0d" stroke-width="1.0" stroke-linejoin="round">***</text>
<text x="1274.6" y="1946" text-anchor="middle" style="font-size:30.5px;" fill="#0d0d0d" stroke="#0d0d0d" stroke-width="1.0" stroke-linejoin="round">**</text>
<text x="1415.8" y="2070.6" text-anchor="middle" style="font-size:31.6px;" fill="#0d0d0d" stroke="#0d0d0d" stroke-width="0.35" stroke-linejoin="round">ns</text>
<text x="0" y="0" text-anchor="middle" style="font-size:31.98px;font-weight:bold;" fill="#0d0d0d" transform="translate(917.3 1958.3) rotate(-90) scale(0.935 1)" stroke="#0d0d0d" stroke-width="0.55" stroke-linejoin="round">Enrichment(fold)</text>
<rect x="1536.9" y="1788.4" width="40.49999999999996" height="21.60000000000009" fill="none" stroke="#0d0d0d" stroke-width="5.8"/>
<text x="1601.7" y="1809.9" text-anchor="start" style="font-size:30.5px;" fill="#0d0d0d" stroke="#0d0d0d" stroke-width="0.35" stroke-linejoin="round">PBS</text>
<rect x="1536.9" y="1841.5" width="40.49999999999996" height="21.60000000000009" fill="none" stroke="#b98034" stroke-width="5.8"/>
<text x="1601.7" y="1863" text-anchor="start" style="font-size:30.5px;" fill="#0d0d0d" stroke="#0d0d0d" stroke-width="0.35" stroke-linejoin="round">PCN-100μM</text>
<rect x="1536.9" y="1894.3000000000002" width="40.49999999999996" height="21.79999999999991" fill="none" stroke="#2f63b0" stroke-width="5.8"/>
<text x="1601.7" y="1916.1" text-anchor="start" style="font-size:30.5px;" fill="#0d0d0d" stroke="#0d0d0d" stroke-width="0.35" stroke-linejoin="round">PCN100μM+JQ1-μM</text>
<rect x="1536.9" y="1947.4" width="40.49999999999996" height="21.400000000000045" fill="none" stroke="#f99d2f" stroke-width="5.8"/>
<text x="1601.7" y="1969.1" text-anchor="start" style="font-size:30.5px;" fill="#0d0d0d" stroke="#0d0d0d" stroke-width="0.35" stroke-linejoin="round">JQ1-1μM</text>
</g>
</svg>
</body></html>
